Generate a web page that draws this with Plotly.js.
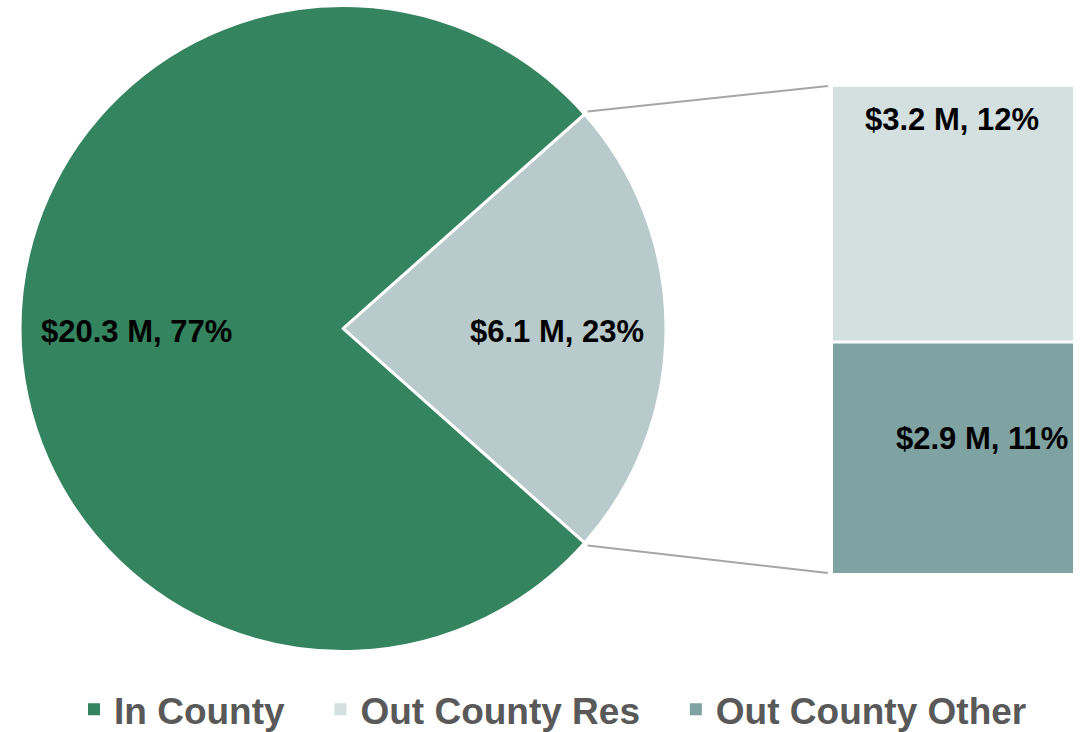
<!DOCTYPE html>
<html>
<head>
<meta charset="utf-8">
<script src="https://cdn.plot.ly/plotly-3.0.1.min.js"></script>
<style>html,body{margin:0;padding:0;background:#fff;}#chart{width:1083px;height:732px;}</style>
</head>
<body>
<div id="chart"></div>
<script>
// ---- data ----
var pieLabels = ['Out County', 'In County'];
var pieValues = [6.1, 20.3];
var piePercents = ['23%', '77%'];
var barCategory = ['Out County'];
var barSeries = ['Out County Res', 'Out County Other'];
var barValues = [3.2, 2.9];
var barPercents = ['12%', '11%'];
var legendNames = ['In County', 'Out County Res', 'Out County Other'];

var W = 1083, H = 732;
function px(x){ return x / W; }
function py(y){ return 1 - y / H; }

var cGreen = '#33845F', cSlice = '#B8CACB', cRes = '#D4E0E0', cOther = '#7FA2A2';

var total = pieValues[0] + pieValues[1];
var halfAngle = (pieValues[0] / total) * 180; // degrees
var rotation = 90 - halfAngle;
var pad = '&nbsp;&nbsp;&nbsp;';

var traces = [
  {
    type: 'pie',
    labels: pieLabels,
    values: pieValues,
    sort: false,
    direction: 'clockwise',
    rotation: rotation,
    textinfo: 'none',
    hoverinfo: 'none',
    showlegend: false,
    marker: { colors: [cSlice, cGreen], line: { color: '#ffffff', width: 3 } },
    domain: { x: [px(20), px(666)], y: [py(652), py(5)] }
  },
  {
    type: 'bar', name: legendNames[0] + pad, x: barCategory, y: [0],
    marker: { color: cGreen, line: { color: '#ffffff', width: 0 } },
    xaxis: 'x', yaxis: 'y', hoverinfo: 'none'
  },
  {
    type: 'bar', name: legendNames[1] + pad, x: barCategory, y: [barValues[0]], base: [barValues[1]],
    marker: { color: cRes, line: { color: '#ffffff', width: 0 } },
    xaxis: 'x', yaxis: 'y', hoverinfo: 'none'
  },
  {
    type: 'bar', name: legendNames[2], x: barCategory, y: [barValues[1]], base: [0],
    marker: { color: cOther, line: { color: '#ffffff', width: 0 } },
    xaxis: 'x', yaxis: 'y', hoverinfo: 'none'
  }
];

var barTop = barValues[0] + barValues[1];

// connector lines from pie boundary to bar corners
var cx = (20 + 666) / 2, cy = (5 + 652) / 2, R = 323 + 4;
var a = halfAngle * Math.PI / 180;
var sx = cx + R * Math.cos(a);
var syTop = cy - R * Math.sin(a);
var syBot = cy + R * Math.sin(a);

var shapes = [
  { type: 'line', xref: 'paper', yref: 'paper', x0: px(sx), y0: py(syTop), x1: px(828), y1: py(86),
    line: { color: '#A6A6A6', width: 2 } },
  { type: 'line', xref: 'paper', yref: 'paper', x0: px(sx), y0: py(syBot), x1: px(828), y1: py(573),
    line: { color: '#A6A6A6', width: 2 } },
  { type: 'line', xref: 'x domain', yref: 'y', x0: 0, x1: 1, y0: barValues[1], y1: barValues[1],
    line: { color: '#ffffff', width: 3 } }
];

var lblFont = { family: 'Liberation Sans, Arial, sans-serif', size: 31, color: '#000000', weight: 'bold' };
function fmt(v, p){ return '$' + v.toFixed(1) + ' M, ' + p; }
function ann(x, y, t){ return { xref: 'paper', yref: 'paper', x: px(x), y: py(y), xanchor: 'center', yanchor: 'middle', text: t, showarrow: false, font: lblFont }; }
var annotations = [
  ann(136, 331, fmt(pieValues[1], piePercents[1])),
  ann(557, 331, fmt(pieValues[0], piePercents[0])),
  ann(952, 119, fmt(barValues[0], barPercents[0])),
  ann(982, 438, fmt(barValues[1], barPercents[1]))
];

var layout = {
  width: W, height: H,
  margin: { l: 0, r: 0, t: 0, b: 0, autoexpand: false },
  paper_bgcolor: '#ffffff', plot_bgcolor: '#ffffff',
  barmode: 'overlay', bargap: 0,
  xaxis: { domain: [px(833), px(1073)], visible: false, fixedrange: true },
  yaxis: { domain: [py(573), py(87)], range: [0, barTop], visible: false, fixedrange: true },
  showlegend: true,
  legend: {
    orientation: 'h', x: px(553), xanchor: 'center', y: -0.012, yanchor: 'bottom',
    font: { family: 'Liberation Sans, Arial, sans-serif', size: 37, color: '#595959', weight: 'bold' },
    traceorder: 'normal', itemclick: false, itemdoubleclick: false
  },
  shapes: shapes,
  annotations: annotations
};

Plotly.newPlot('chart', traces, layout, { staticPlot: true, displayModeBar: false });
</script>
</body>
</html>
